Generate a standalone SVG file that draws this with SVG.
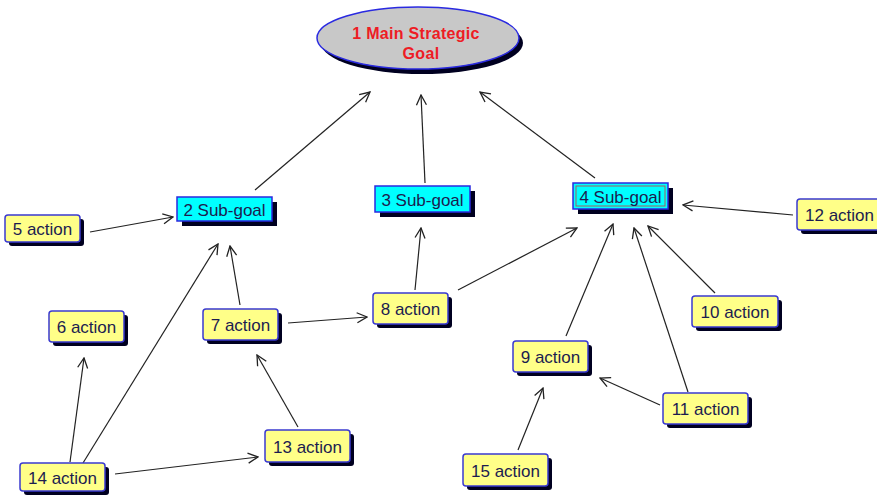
<svg xmlns="http://www.w3.org/2000/svg" width="877" height="499" viewBox="0 0 877 499">
<defs>
<style>
.sh{fill:#000020}
.act{fill:#ffff88;stroke:#3a3ad0;stroke-width:1.5}
.sub{fill:#00ffff;stroke:#2a2ae0;stroke-width:1.5}
.t{font-family:"Liberation Sans",Arial,sans-serif;font-size:17px;fill:#1c1c50;text-anchor:middle}
.g{font-family:"Liberation Sans",Arial,sans-serif;font-size:16px;font-weight:bold;letter-spacing:0.3px;fill:#ee1c24;text-anchor:middle}
.c line{stroke:#222;stroke-width:1.2;marker-end:url(#ah)}
</style>
<marker id="ah" viewBox="0 0 12 12" refX="11" refY="6" markerWidth="12" markerHeight="12" markerUnits="userSpaceOnUse" orient="auto">
<path d="M1,1 L11,6 L1,11" fill="none" stroke="#222" stroke-width="1.3"/>
</marker>
</defs>
<rect width="877" height="499" fill="#fff"/>
<g class="c">
<line x1="255" y1="190" x2="370" y2="92"/>
<line x1="425" y1="183" x2="421" y2="95"/>
<line x1="595" y1="178" x2="480" y2="92"/>
<line x1="90" y1="232" x2="173" y2="217"/>
<line x1="240" y1="305" x2="230" y2="246"/>
<line x1="83" y1="463" x2="218" y2="244"/>
<line x1="70" y1="462" x2="84" y2="358"/>
<line x1="115" y1="474" x2="258" y2="457"/>
<line x1="298" y1="427" x2="257" y2="355"/>
<line x1="288" y1="323" x2="367" y2="317"/>
<line x1="415" y1="290" x2="421" y2="228"/>
<line x1="458" y1="290" x2="577" y2="228"/>
<line x1="793" y1="215" x2="683" y2="205"/>
<line x1="566" y1="336" x2="613" y2="224"/>
<line x1="688" y1="392" x2="634" y2="228"/>
<line x1="715" y1="293" x2="648" y2="226"/>
<line x1="660" y1="405" x2="600" y2="378"/>
<line x1="518" y1="450" x2="543" y2="388"/>
</g>
<g id="n1">
<ellipse cx="422" cy="43" rx="101" ry="31" class="sh"/>
<ellipse cx="418" cy="38" rx="101" ry="31" fill="#c8c8c8" stroke="#2a2ae0" stroke-width="1.5"/>
<text x="416" y="39" class="g">1 Main Strategic</text>
<text x="421" y="59" class="g">Goal</text>
</g>
<g id="n2">
<rect x="182" y="202" width="95" height="24" class="sh"/>
<rect x="177" y="197" width="95" height="24" class="sub"/>
<text x="224.5" y="215.5" class="t">2 Sub-goal</text>
</g>
<g id="n3">
<rect x="380" y="191" width="95" height="26" class="sh"/>
<rect x="375" y="186" width="95" height="26" class="sub"/>
<text x="422.5" y="205.5" class="t">3 Sub-goal</text>
</g>
<g id="n4">
<rect x="578" y="188" width="95" height="26" class="sh"/>
<rect x="573" y="183" width="95" height="26" class="sub"/>
<rect x="576" y="186" width="89" height="20" fill="none" stroke="#a06060" stroke-width="1"/>
<text x="620.5" y="202.5" class="t">4 Sub-goal</text>
</g>
<g id="n5">
<rect x="9" y="219" width="75" height="27" rx="3" class="sh"/>
<rect x="5" y="215" width="75" height="27" rx="3" class="act"/>
<text x="42.5" y="234.5" class="t">5 action</text>
</g>
<g id="n6">
<rect x="53" y="315" width="75" height="31" rx="3" class="sh"/>
<rect x="49" y="311" width="75" height="31" rx="3" class="act"/>
<text x="86.5" y="332.5" class="t">6 action</text>
</g>
<g id="n7">
<rect x="207" y="313" width="75" height="31" rx="3" class="sh"/>
<rect x="203" y="309" width="75" height="31" rx="3" class="act"/>
<text x="240.5" y="330.5" class="t">7 action</text>
</g>
<g id="n8">
<rect x="377" y="297" width="75" height="31" rx="3" class="sh"/>
<rect x="373" y="293" width="75" height="31" rx="3" class="act"/>
<text x="410.5" y="314.5" class="t">8 action</text>
</g>
<g id="n9">
<rect x="517" y="345" width="75" height="31" rx="3" class="sh"/>
<rect x="513" y="341" width="75" height="31" rx="3" class="act"/>
<text x="550.5" y="362.5" class="t">9 action</text>
</g>
<g id="n10">
<rect x="696" y="300" width="86" height="31" rx="3" class="sh"/>
<rect x="692" y="296" width="86" height="31" rx="3" class="act"/>
<text x="735" y="317.5" class="t">10 action</text>
</g>
<g id="n11">
<rect x="667" y="397" width="85" height="31" rx="3" class="sh"/>
<rect x="663" y="393" width="85" height="31" rx="3" class="act"/>
<text x="705.5" y="414.5" class="t">11 action</text>
</g>
<g id="n12">
<rect x="801" y="203" width="85" height="31" rx="3" class="sh"/>
<rect x="797" y="199" width="85" height="31" rx="3" class="act"/>
<text x="839.5" y="220.5" class="t">12 action</text>
</g>
<g id="n13">
<rect x="269" y="434" width="85" height="32" rx="3" class="sh"/>
<rect x="265" y="430" width="85" height="32" rx="3" class="act"/>
<text x="307.5" y="452.5" class="t">13 action</text>
</g>
<g id="n14">
<rect x="24" y="467" width="85" height="28" rx="3" class="sh"/>
<rect x="20" y="463" width="85" height="28" rx="3" class="act"/>
<text x="62.5" y="483.5" class="t">14 action</text>
</g>
<g id="n15">
<rect x="467" y="458" width="85" height="32" rx="3" class="sh"/>
<rect x="463" y="454" width="85" height="32" rx="3" class="act"/>
<text x="505.5" y="476.5" class="t">15 action</text>
</g>
</svg>
